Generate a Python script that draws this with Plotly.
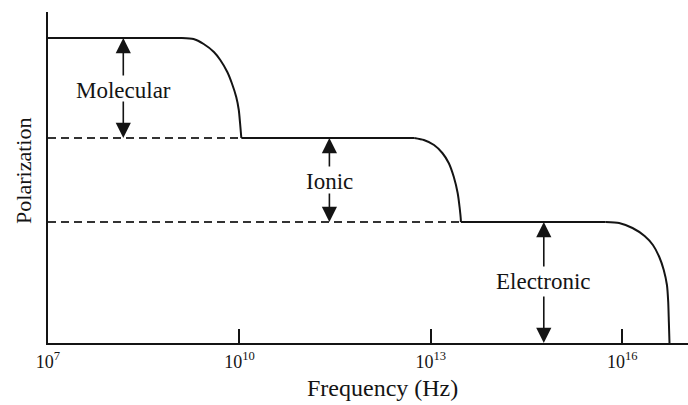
import numpy as np
import plotly.graph_objects as go

# log10(frequency) and polarization (arbitrary units)
# plateau segments: start / end of each flat level
plateau_logf = [[7.00, 9.10], [10.03, 12.74], [13.47, 15.74]]
plateau_pol = [3.05, 2.05, 1.21]

# roll-off curves
curve_logf = [
    [9.10, 9.28, 9.44, 9.60, 9.70, 9.81, 9.88, 9.95, 9.99, 10.01, 10.03],
    [12.74, 12.89, 13.05, 13.18, 13.28, 13.36, 13.42, 13.45, 13.47, 13.47],
    [15.74, 15.95, 16.16, 16.35, 16.48, 16.58, 16.65, 16.70, 16.72, 16.73, 16.74],
]
curve_pol = [
    [3.05, 3.04, 2.99, 2.91, 2.83, 2.71, 2.60, 2.46, 2.33, 2.20, 2.05],
    [2.05, 2.03, 1.98, 1.90, 1.80, 1.66, 1.50, 1.36, 1.23, 1.21],
    [1.21, 1.20, 1.15, 1.07, 0.98, 0.86, 0.73, 0.58, 0.41, 0.21, 0.00],
]

# dashed reference levels
dash_logf_end = [10.03, 13.47]
dash_pol = [2.05, 1.21]

# labelled contributions
labels = ["Molecular", "Ionic", "Electronic"]
label_logf = [8.18, 11.41, 14.77]
label_low = [2.05, 1.21, 0.00]
label_high = [3.05, 2.05, 1.21]
label_y = [2.53, 1.62, 0.62]
gap_top = [2.66, 1.75, 0.75]
gap_bot = [2.43, 1.51, 0.48]

tick_exp = [7, 10, 13, 16]
tick_text = [f"10<sup>{e}</sup>" for e in tick_exp]

FONT = "Liberation Serif"
INK = "#141414"

fig = go.Figure()

for xs, yv in zip(plateau_logf, plateau_pol):
    fig.add_trace(go.Scatter(x=[10 ** v for v in xs], y=[yv, yv], mode="lines",
                             line=dict(color=INK, width=2), showlegend=False, hoverinfo="skip"))

for xs, ys in zip(curve_logf, curve_pol):
    fig.add_trace(go.Scatter(x=[10 ** v for v in xs], y=ys, mode="lines",
                             line=dict(color=INK, width=2, shape="spline", smoothing=0.6),
                             showlegend=False, hoverinfo="skip"))

for xe, yv in zip(dash_logf_end, dash_pol):
    fig.add_trace(go.Scatter(x=[1e7, 10 ** xe], y=[yv, yv], mode="lines",
                             line=dict(color="#333333", width=1.8, dash="8px,5px"),
                             showlegend=False, hoverinfo="skip"))

ann = []
for name, lx, lo, hi, ty, gt, gb in zip(labels, label_logf, label_low, label_high,
                                         label_y, gap_top, gap_bot):
    ann.append(dict(x=lx, y=ty, text=name, showarrow=False,
                    font=dict(family=FONT, size=23, color=INK), xref="x", yref="y"))
    ann.append(dict(x=lx, y=hi, ax=lx, ay=gt, xref="x", yref="y", axref="x", ayref="y",
                    text="", showarrow=True, arrowhead=2, arrowsize=1.9, arrowwidth=1.6,
                    arrowcolor=INK, standoff=0, startstandoff=0))
    ann.append(dict(x=lx, y=lo, ax=lx, ay=gb, xref="x", yref="y", axref="x", ayref="y",
                    text="", showarrow=True, arrowhead=2, arrowsize=1.9, arrowwidth=1.6,
                    arrowcolor=INK, standoff=0, startstandoff=0))

# axis titles (placed as in the original figure)
ann.append(dict(x=0.522, y=-0.136, xref="paper", yref="paper", text="Frequency (Hz)",
                showarrow=False, xanchor="center", yanchor="middle",
                font=dict(family=FONT, size=24, color=INK)))
ann.append(dict(x=-0.0375, y=0.52, xref="paper", yref="paper", text="Polarization",
                showarrow=False, xanchor="center", yanchor="middle", textangle=-90,
                font=dict(family=FONT, size=22, color=INK)))

fig.update_layout(
    width=688, height=405,
    margin=dict(l=48, r=0, t=12, b=62),
    paper_bgcolor="white", plot_bgcolor="white",
    font=dict(family=FONT, color=INK),
    annotations=ann,
    xaxis=dict(
        type="log", range=[7, 17.03],
        tickvals=[10 ** e for e in tick_exp], ticktext=tick_text,
        ticks="inside", ticklen=14, tickwidth=1.5, tickcolor=INK,
        tickfont=dict(family=FONT, size=18, color=INK),
        ticklabelstandoff=1,
        showline=True, linecolor=INK, linewidth=2,
        showgrid=False, zeroline=False,
    ),
    yaxis=dict(
        range=[0, 3.31],
        showticklabels=False, ticks="",
        showline=True, linecolor=INK, linewidth=2,
        showgrid=False, zeroline=False,
    ),
)

fig.write_html("out.html")
